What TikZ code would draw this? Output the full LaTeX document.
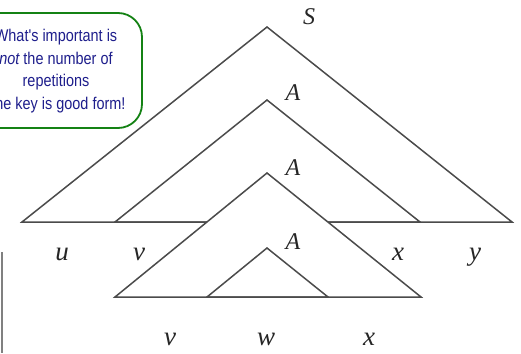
\documentclass[tikz,border=0pt]{standalone}
\usepackage{fontspec}
\setmainfont{Liberation Serif}
\newfontfamily\callfont[FakeStretch=0.85]{Liberation Sans}
\definecolor{linegray}{RGB}{75,75,75}
\definecolor{calloutgreen}{RGB}{20,130,20}
\definecolor{calloutblue}{RGB}{30,30,140}
\tikzset{
  tri/.style={draw=linegray, line width=1.5pt, line join=miter},
  lab/.style={inner sep=0pt, anchor=base, font=\fontsize{24}{24}\selectfont\itshape, text=black!85},
  labsmall/.style={lab, font=\fontsize{27}{27}\selectfont\itshape},
  callout/.style={draw=calloutgreen, line width=1.8pt, rounded corners=24pt, fill=white},
  callouttext/.style={align=center, text=calloutblue, font=\callfont\fontsize{17}{22.5}\selectfont}
}
\begin{document}
\begin{tikzpicture}[x=1pt,y=-1pt]
\useasboundingbox (0,0) rectangle (521,353);
\clip (0,0) rectangle (521,353);
\fill[white] (0,0) rectangle (521,353);
% triangle corners
\coordinate (s0) at (267,27);  \coordinate (s1) at (22,222);  \coordinate (s2) at (512,222);
\coordinate (a0) at (267,100); \coordinate (a1) at (115,222); \coordinate (a2) at (420,222);
\coordinate (b0) at (267,173); \coordinate (b1) at (115,297); \coordinate (b2) at (421,297);
\coordinate (c0) at (267,248); \coordinate (c1) at (207,297); \coordinate (c2) at (328,297);
\draw[tri] (s0) -- (s1) -- (s2) -- cycle;
\draw[tri] (a0) -- (a1) -- (a2) -- cycle;
\draw[tri, fill=white] (b0) -- (b1) -- (b2) -- cycle;
\draw[tri] (c0) -- (c1) -- (c2) -- cycle;
% labels
\node[lab] (S)  at (309,25)  {S};
\node[lab] (A1) at (293,100) {A};
\node[lab] (A2) at (293,175) {A};
\node[lab] (A3) at (293,249) {A};
\node[labsmall] (u)  at (62,260)  {u};
\node[labsmall] (v1) at (139,260) {v};
\node[labsmall] (x1) at (398,260) {x};
\node[labsmall] (y)  at (475,260) {y};
\node[labsmall] (v2) at (170,345) {v};
\node[labsmall] (w)  at (266,345) {w};
\node[labsmall] (x2) at (369,345) {x};
% callout
\draw[callout] (-34,13) rectangle (142,128);
\node[callouttext] (note) at (56,71) {What's important is\\{\itshape not} the number of\\repetitions\\The key is good form!};
% left bar
\fill[gray] (0.5,252) rectangle (3,353);
\end{tikzpicture}
\end{document}
